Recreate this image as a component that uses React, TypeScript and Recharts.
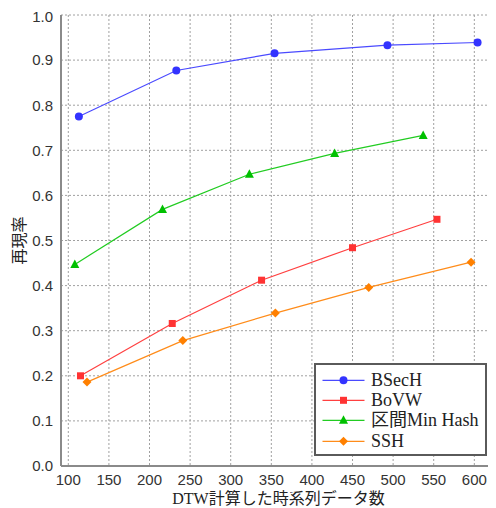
import React from "react";
import {
  CartesianGrid,
  Line,
  LineChart,
  XAxis,
  YAxis,
} from "recharts";

const bsechX = [113, 233, 354, 493, 604];
const bsechY = [0.775, 0.877, 0.915, 0.933, 0.939];
const bovwX = [115, 228, 338, 450, 554];
const bovwY = [0.2, 0.316, 0.412, 0.484, 0.547];
const minhashX = [108, 216, 323, 428, 537];
const minhashY = [0.447, 0.569, 0.647, 0.693, 0.733];
const sshX = [123, 241, 355, 470, 596];
const sshY = [0.186, 0.278, 0.339, 0.396, 0.452];

const xTicks = [100, 150, 200, 250, 300, 350, 400, 450, 500, 550, 600];
const yTicks = [0, 0.1, 0.2, 0.3, 0.4, 0.5, 0.6, 0.7, 0.8, 0.9, 1.0];

const toRows = (xs: number[], ys: number[]) => xs.map((x, i) => ({ x, y: ys[i] }));

const series = [
  { name: "BSecH", data: toRows(bsechX, bsechY), line: "#4a4aff", fill: "#3333ff", shape: "circle" },
  { name: "BoVW", data: toRows(bovwX, bovwY), line: "#ff4040", fill: "#ff3333", shape: "square" },
  { name: "区間Min Hash", data: toRows(minhashX, minhashY), line: "#22cc22", fill: "#00c000", shape: "triangle" },
  { name: "SSH", data: toRows(sshX, sshY), line: "#ff8c1a", fill: "#ff8000", shape: "diamond" },
];

function Marker({ cx, cy, shape, fill }: any) {
  if (cx == null || cy == null) return null;
  if (shape === "circle") return <circle cx={cx} cy={cy} r={4} fill={fill} />;
  if (shape === "square")
    return <rect x={cx - 3.5} y={cy - 3.5} width={7} height={7} fill={fill} />;
  if (shape === "triangle")
    return <polygon points={`${cx},${cy - 5} ${cx + 4.5},${cy + 3.5} ${cx - 4.5},${cy + 3.5}`} fill={fill} />;
  return <polygon points={`${cx},${cy - 4.5} ${cx + 4.5},${cy} ${cx},${cy + 4.5} ${cx - 4.5},${cy}`} fill={fill} />;
}

const tickStyle = { fontFamily: "Liberation Sans, Arial, sans-serif", fontSize: 15, fill: "#333" };
const labelFont = "Liberation Serif, Noto Sans CJK JP, serif";

// legend is drawn on top of the chart, outside recharts' layout
function LegendBox() {
  const rows = [17.3, 37.3, 57.3, 78.3];
  return (
    <svg
      width={173}
      height={93}
      style={{ position: "absolute", left: 305.7, top: 354.7, display: "block" }}
    >
      <rect x={1} y={1} width={171} height={91} fill="#fff" stroke="#5a5a5a" strokeWidth={2} />
      {series.map((s, i) => (
        <g key={s.name}>
          <line x1={8.5} x2={50.5} y1={rows[i]} y2={rows[i]} stroke={s.line} strokeWidth={1.2} />
          <Marker cx={29.5} cy={rows[i]} shape={s.shape} fill={s.fill} />
          <text x={57} y={rows[i]} dominantBaseline="central" fontFamily={labelFont} fontSize={18} fill="#222">
            {s.name}
          </text>
        </g>
      ))}
    </svg>
  );
}

export default function App() {
  return (
    <div style={{ position: "relative", width: 488, height: 500 }}>
      <LineChart width={488} height={500} margin={{ top: 7, right: 0, bottom: 0, left: 0 }}>
        <CartesianGrid stroke="#a0a0a0" strokeDasharray="2 2" />
        <XAxis
          type="number"
          dataKey="x"
          domain={[91, 626.7]}
          ticks={xTicks}
          allowDataOverflow
          height={42}
          tickLine={false}
          axisLine={{ stroke: "#8a8a8a", strokeWidth: 2 }}
          tick={tickStyle}
          label={{
            content: ({ viewBox }: any) => (
              <text
                x={viewBox.x + viewBox.width / 2}
                y={490}
                textAnchor="middle"
                dominantBaseline="central"
                fontFamily={labelFont}
                fontSize={16}
                fill="#222"
              >
                DTW計算した時系列データ数
              </text>
            ),
          }}
        />
        <XAxis
          xAxisId="top"
          orientation="top"
          type="number"
          dataKey="x"
          domain={[91, 626.7]}
          ticks={xTicks}
          allowDataOverflow
          height={0}
          mirror
          tick={false}
          tickSize={5}
          tickLine={{ stroke: "#555" }}
          axisLine={{ stroke: "#a0a0a0", strokeWidth: 2 }}
        />
        <YAxis
          type="number"
          domain={[0, 1]}
          ticks={yTicks}
          width={53}
          tickLine={false}
          axisLine={{ stroke: "#8a8a8a", strokeWidth: 2 }}
          tick={tickStyle}
          tickFormatter={(v: number) => v.toFixed(1)}
          label={{
            content: ({ viewBox }: any) => {
              const cy = viewBox.y + viewBox.height / 2;
              return (
                <text
                  x={11}
                  y={cy}
                  transform={`rotate(-90, 11, ${cy})`}
                  textAnchor="middle"
                  dominantBaseline="central"
                  fontFamily={labelFont}
                  fontSize={16}
                  fill="#222"
                >
                  再現率
                </text>
              );
            },
          }}
        />
        <YAxis
          yAxisId="right"
          orientation="right"
          type="number"
          domain={[0, 1]}
          ticks={yTicks}
          width={0}
          mirror
          tick={false}
          tickSize={4}
          tickLine={{ stroke: "#555" }}
          axisLine={{ stroke: "#8a8a8a", strokeWidth: 2 }}
        />
        {series.map((s) => (
          <Line
            key={s.name}
            type="linear"
            data={s.data}
            dataKey="y"
            name={s.name}
            stroke={s.line}
            strokeWidth={1.2}
            isAnimationActive={false}
            dot={(p: any) => <Marker key={p.index} cx={p.cx} cy={p.cy} shape={s.shape} fill={s.fill} />}
            activeDot={false}
          />
        ))}
      </LineChart>
      <LegendBox />
    </div>
  );
}
